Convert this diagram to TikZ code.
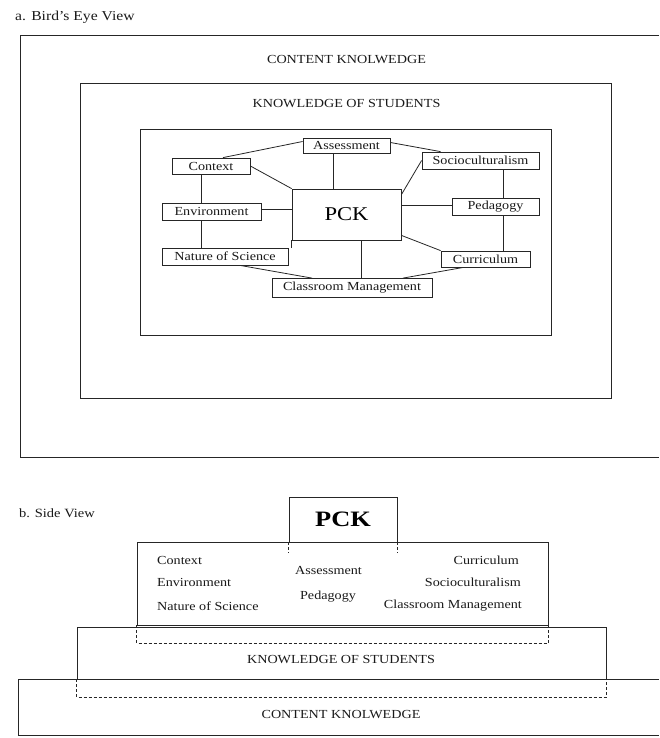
\documentclass[tikz,border=0pt]{standalone}
\usepackage{graphicx}
\usepackage{fontspec}
\setmainfont{Liberation Serif}
\newcommand\sx[1]{\scalebox{1.15}[1]{#1}}
\tikzset{
  ln/.style={line width=0.8pt, draw=black!85},
  dsh/.style={ln, dash pattern=on 3pt off 2pt},
  lbl/.style={font=\fontsize{12.3}{14}\selectfont, inner sep=0pt, text=black!90},
  bx/.style={lbl, ln, rectangle, minimum height=16pt},
  ttl/.style={font=\fontsize{12.6}{15}\selectfont, inner sep=0pt, anchor=west, text=black!90},
}
\begin{document}
\begin{tikzpicture}[x=1pt,y=-1pt]
\useasboundingbox (0,0) rectangle (659,738);

% ---------- a. Bird's Eye View ----------
\node[ttl, font=\fontsize{13.6}{15}\selectfont] (ta) at (15,17) {\sx{a. Bird’s Eye View}};
\draw[ln] (659,35) -- (20,35) -- (20,457) -- (659,457);
\draw[ln] (80,83) rectangle (611,398);
\draw[ln] (140,129) rectangle (551,335);
\node[lbl] (ck1) at (346.5,60) {\sx{CONTENT KNOLWEDGE}};
\node[lbl] (ks1) at (346.5,104) {\sx{KNOWLEDGE OF STUDENTS}};

\node[bx, minimum width=87pt, minimum height=15pt] (as) at (346.5,145.5) {\sx{Assessment}};
\node[bx, minimum width=78pt] (co) at (211,166) {\sx{Context}};
\node[bx, minimum width=117pt, minimum height=17pt] (so) at (480.5,160.5) {\sx{Socioculturalism}};
\node[ln, rectangle, inner sep=0pt, minimum width=109pt, minimum height=51pt,
      font=\fontsize{19.5}{22}\selectfont] (pck) at (346.5,214.5) {\scalebox{1.16}[1]{PCK}};
\node[bx, minimum width=99pt, minimum height=17pt] (en) at (211.5,211.5) {\sx{Environment}};
\node[bx, minimum width=87pt, minimum height=17pt] (pe) at (495.5,206.5) {\sx{Pedagogy}};
\node[bx, minimum width=126pt, minimum height=17pt] (ns) at (225,256.5) {\sx{Nature of Science}};
\node[bx, minimum width=89pt] (cu) at (485.5,259) {\sx{Curriculum}};
\node[bx, minimum width=160pt, minimum height=19pt] (cm) at (352,288) {\sx{Classroom Management}};

\draw[ln] ([yshift=4pt]as.west) -- ([xshift=12pt]co.north);
\draw[ln] ([yshift=3pt]as.east) -- ([xshift=-40pt]so.north);
\draw[ln] ([xshift=-13.5pt]as.south) -- ([xshift=-13.5pt]as.south |- pck.north);
\draw[ln] (co.east) -- (pck.north west);
\draw[ln] (so.west) -- ([yshift=-6pt]pck.north east);
\draw[ln] ([xshift=-10pt]co.south) -- ([xshift=-10pt]co.south |- en.north);
\draw[ln] ([yshift=2pt]en.east) -- ([yshift=2pt]en.east -| pck.west);
\draw[ln] ([xshift=-10pt]en.south) -- ([xshift=-10pt]en.south |- ns.north);
\draw[ln] ([yshift=1pt]pe.west) -- ([yshift=1pt]pe.west -| pck.east);
\draw[ln] ([xshift=22.5pt]so.south) -- ([xshift=22.5pt]so.south |- pe.north);
\draw[ln] ([xshift=7.5pt]pe.south) -- ([xshift=7.5pt]pe.south |- cu.north);
\draw[ln] ([yshift=5pt]pck.south east) -- (cu.north west);
\draw[ln] ([xshift=15pt]pck.south) -- ([xshift=15pt]pck.south |- cm.north);
\draw[ln] (pck.south west) -- (pck.south west |- ns.north);
\draw[ln] ([xshift=15pt]ns.south) -- ([xshift=-40pt]cm.north);
\draw[ln] ([xshift=-22pt]cu.south) -- ([xshift=51pt]cm.north);

% ---------- b. Side View ----------
\node[ttl] (tb) at (19,513) {\sx{b. Side View}};
\node[ln, rectangle, inner sep=0pt, minimum width=108pt, minimum height=45pt,
      font=\fontsize{22}{24}\selectfont\bfseries] (pckb) at (343,519.5) {\scalebox{1.2}[1]{PCK}};
\node[ln, rectangle, minimum width=411pt, minimum height=83pt] (mid) at (342.5,583.5) {};
\node[ln, rectangle, minimum width=529pt, minimum height=52pt] (kosb) at (341.5,653) {};
\draw[ln] (659,679) -- (18,679) -- (18,735) -- (659,735);

\draw[dsh] (pckb.south west) -- ++(0,11);
\draw[dsh] (pckb.south east) -- ++(0,11);
\draw[dsh] (mid.south west) -- ++(0,18) -| (mid.south east);
\draw[dsh] (kosb.south west) -- ++(0,18) -| (kosb.south east);

\node[lbl, anchor=west] (c2) at (157,560) {\sx{Context}};
\node[lbl, anchor=west] (e2) at (157,582) {\sx{Environment}};
\node[lbl, anchor=west] (n2) at (157,606) {\sx{Nature of Science}};
\node[lbl] (a2) at (328.5,570) {\sx{Assessment}};
\node[lbl] (p2) at (328,597) {\sx{Pedagogy}};
\node[lbl, anchor=east] (u2) at (519,560) {\sx{Curriculum}};
\node[lbl, anchor=east] (s2) at (521,582) {\sx{Socioculturalism}};
\node[lbl, anchor=east] (m2) at (522,606) {\sx{Classroom Management}};

\node[lbl] (ks2) at (341,660) {\sx{KNOWLEDGE OF STUDENTS}};
\node[lbl] (ck2) at (341,715) {\sx{CONTENT KNOLWEDGE}};
\end{tikzpicture}
\end{document}
